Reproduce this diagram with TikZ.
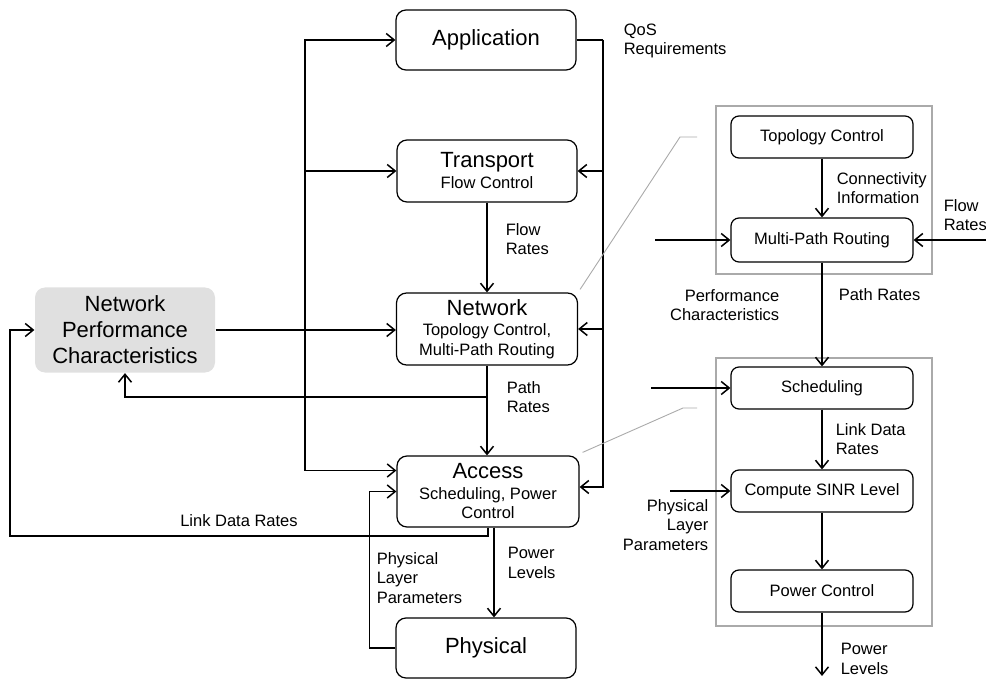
\documentclass[tikz,border=0pt]{standalone}
\usepackage{fontspec}
\setmainfont{Liberation Sans}
\usetikzlibrary{arrows.meta}

\definecolor{npcgray}{RGB}{224,224,224}
\definecolor{framegray}{RGB}{170,170,170}
\newcommand\layerfont{\fontsize{22}{26}\selectfont}
\newcommand\notefont{\fontsize{16.5}{19.5}\selectfont}

\begin{document}
\begin{tikzpicture}[
  x=1pt, y=-1pt,
  line width=1.5pt,
  >={Straight Barb[length=8pt,width=13pt]},
  layer/.style={draw, line width=1.2pt, rounded corners=10pt, minimum width=180pt,
    minimum height=60pt, align=center, font=\layerfont},
  block/.style={draw, line width=1.2pt, rounded corners=8pt, minimum width=182pt,
    minimum height=42pt, font=\notefont},
  frame/.style={draw=framegray, line width=1.4pt, minimum width=216pt},
  note/.style={font=\notefont, inner sep=0pt},
  zoomline/.style={draw=framegray, line width=0.9pt}]

  \useasboundingbox (0,0) rectangle (986,679);

  % layer stack
  \node[layer] (app) at (486,40) {Application};
  \node[layer, minimum height=62pt] (trans) at (487,171) {Transport\\[-5pt]{\notefont Flow Control}};
  \node[layer, minimum width=181pt, minimum height=72pt] (net) at (487,329)
    {Network\\[-6pt]{\notefont Topology Control,}\\[-6pt]{\notefont Multi-Path Routing}};
  \node[layer, minimum width=182pt, minimum height=71pt] (acc) at (488,491.5)
    {Access\\[-5pt]{\notefont Scheduling, Power}\\[-7pt]{\notefont Control}};
  \node[layer] (phys) at (486,648) {Physical};
  \node[layer, draw=none, fill=npcgray, minimum height=85pt] (npc) at (125,330)
    {Network\\Performance\\Characteristics};

  % detail of network and access layers
  \node[frame, minimum height=168pt] (upper) at (824,190) {};
  \node[frame, minimum height=268pt] (lower) at (824,492) {};
  \node[block] (topo) at (822,137) {Topology Control};
  \node[block, minimum height=44pt] (mpr) at (822,240) {Multi-Path Routing};
  \node[block] (sched) at (822,388) {Scheduling};
  \node[block] (sinr) at (822,491) {Compute SINR Level};
  \node[block] (pc) at (822,591) {Power Control};

  \coordinate (lbus) at (305,330);
  \coordinate (rbus) at (603,40);
  \coordinate (pr) at (487,397);
  \coordinate (mprin) at (655,240);
  \coordinate (frin) at (986,240);
  \coordinate (schin) at (651,388);
  \coordinate (sinrin) at (670,491);
  \coordinate (pcout) at (822,676);
  \coordinate (z1) at (697,137);
  \coordinate (z2) at (697,408);

  \draw[->] (npc.east) -- (npc.east -| net.west);
  \draw[->] (lbus) |- (app.west);
  \draw[->] (lbus) |- (trans.west);
  \draw[->] (lbus) |- ([yshift=21pt]acc.west);
  \draw (app.east) -- (rbus);
  \draw[->] (rbus) |- (trans.east);
  \draw[->] (rbus) |- (net.east);
  \draw[->] (rbus) |- ([yshift=4.5pt]acc.east);
  \draw[->] (trans) -- (net);
  \draw[->] (net.south) -- (net.south |- acc.north);
  \draw[->] (pr) -| (npc.south);
  \draw[->] (acc.south) |- (10,536) |- (npc.west);
  \draw[->] ([xshift=6pt]acc.south) -- ([xshift=6pt]acc.south |- phys.north);
  \draw[->] (phys.west) -- ++(-26,0) |- (acc.west);

  \draw[->] (topo) -- (mpr);
  \draw[->] (mprin) -- (mpr.west);
  \draw[->] (frin) -- (mpr.east);
  \draw[->] (mpr) -- (sched);
  \draw[->] (schin) -- (sched.west);
  \draw[->] (sched) -- (sinr);
  \draw[->] (sinrin) -- (sinr.west);
  \draw[->] (sinr) -- (pc);
  \draw[->] (pc) -- (pcout);

  \draw[zoomline] ([shift={(2,-3)}]net.north east) -- (680,137) -- (z1);
  \draw[zoomline] ([shift={(3,-3)}]acc.north east) -- (683,408) -- (z2);

  % labels
  \node[note, anchor=west, align=left] (qos) at (623,41) {QoS\\Requirements};
  \node[note, anchor=west, align=left] (flowr) at (505,239) {Flow\\Rates};
  \node[note, anchor=west, align=left] (pathr) at (506,397) {Path\\Rates};
  \node[note, anchor=west, align=left] (powl) at (507,563) {Power\\Levels};
  \node[note, anchor=west, align=left] (plp) at (376,578) {Physical\\Layer\\Parameters};
  \node[note] (ldr) at (239,521) {Link Data Rates};
  \node[note, anchor=west, align=left] (conn) at (836,188) {Connectivity\\Information};
  \node[note, anchor=west, align=left] (flowr2) at (943,215) {Flow\\Rates};
  \node[note, anchor=east, align=right] (perf) at (780,305) {Performance\\Characteristics};
  \node[note, anchor=west] (pathr2) at (838,295) {Path Rates};
  \node[note, anchor=west, align=left] (ldr2) at (835,439) {Link Data\\Rates};
  \node[note, anchor=east, align=right] (plp2) at (709,525) {Physical\\Layer\\Parameters};
  \node[note, anchor=west, align=left] (powl2) at (840,659) {Power\\Levels};
\end{tikzpicture}
\end{document}
